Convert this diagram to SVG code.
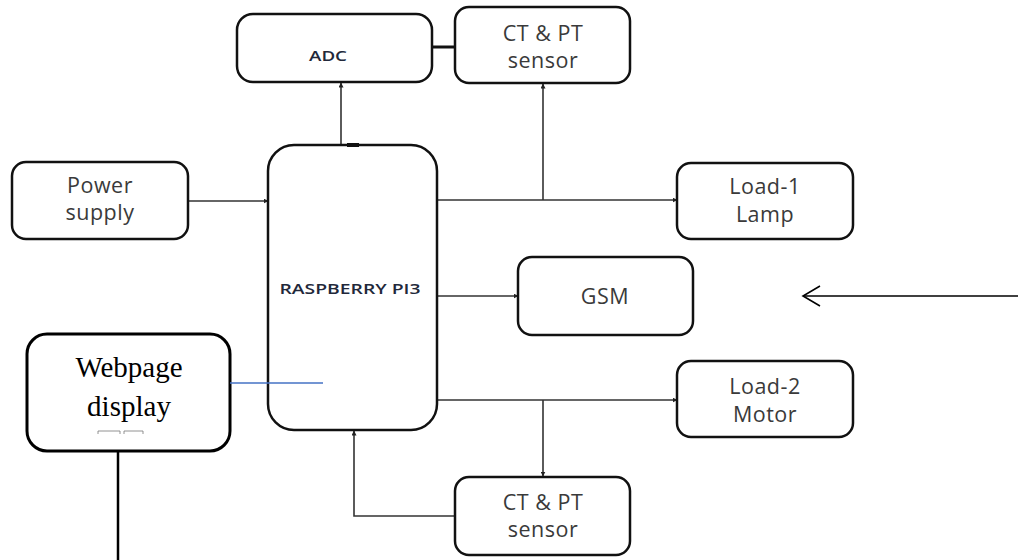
<svg xmlns="http://www.w3.org/2000/svg" width="1018" height="560" viewBox="0 0 1018 560">
<defs>
<marker id="ah" viewBox="0 0 10 10" refX="9" refY="5" markerWidth="5" markerHeight="5" orient="auto" markerUnits="userSpaceOnUse">
<path d="M0,0 L10,5 L0,10 z" fill="#222"/>
</marker>
</defs>
<style>
.box{fill:#fff;stroke:#111;stroke-width:2.5}
.t{font-family:"Open Sans","Liberation Sans",sans-serif;font-size:21.5px;font-weight:500;letter-spacing:0.5px;fill:#3a3a3a;text-anchor:middle}
.ts{font-family:"Open Sans","Liberation Sans",sans-serif;font-size:14.5px;font-weight:600;fill:#22283a;text-anchor:middle}
.c{fill:none;stroke:#333;stroke-width:1.6}
</style>
<rect width="1018" height="560" fill="#fff"/>
<g id="connectors">
<line class="c" x1="432" y1="47" x2="455" y2="47" style="stroke:#111;stroke-width:3"/>
<line class="c" x1="341" y1="145" x2="341" y2="83" marker-end="url(#ah)"/>
<line class="c" x1="543" y1="200" x2="543" y2="84" marker-end="url(#ah)"/>
<line class="c" x1="188" y1="201" x2="268" y2="201" marker-end="url(#ah)"/>
<line class="c" x1="437" y1="200" x2="677" y2="200" marker-end="url(#ah)"/>
<line class="c" x1="437" y1="296" x2="518" y2="296" marker-end="url(#ah)"/>
<line class="c" x1="437" y1="400" x2="677" y2="400" marker-end="url(#ah)"/>
<line class="c" x1="543" y1="400" x2="543" y2="476" marker-end="url(#ah)"/>
<polyline class="c" points="455,516 354,516 354,431" marker-end="url(#ah)"/>
<line x1="118" y1="451" x2="118" y2="560" stroke="#000" stroke-width="2.5"/>
<line x1="1018" y1="296" x2="803" y2="296" stroke="#000" stroke-width="1.6"/>
<polyline points="820,286 803,296 820,306" fill="none" stroke="#000" stroke-width="1.6"/>
</g>
<g id="adc">
<rect class="box" x="237" y="14" width="195" height="68" rx="16"/>
<text class="ts" x="328" y="61" textLength="38" lengthAdjust="spacingAndGlyphs">ADC</text>
</g>
<g id="ctpt-top">
<rect class="box" x="455" y="7" width="175" height="76" rx="14"/>
<text class="t" x="543" y="41">CT &amp; PT</text>
<text class="t" x="543" y="68">sensor</text>
</g>
<g id="power">
<rect class="box" x="12" y="162" width="176" height="77" rx="14"/>
<text class="t" x="100" y="193">Power</text>
<text class="t" x="100" y="220">supply</text>
</g>
<g id="rpi">
<rect class="box" x="268" y="145" width="169" height="285" rx="26"/>
<rect x="347" y="143" width="12" height="4" fill="#111"/>
<text class="ts" x="350" y="294" textLength="141" lengthAdjust="spacingAndGlyphs">RASPBERRY PI3</text>
</g>
<g id="load1">
<rect class="box" x="677" y="163" width="176" height="76" rx="14"/>
<text class="t" x="765" y="194">Load-1</text>
<text class="t" x="765" y="222">Lamp</text>
</g>
<g id="gsm">
<rect class="box" x="518" y="257" width="175" height="78" rx="14"/>
<text class="t" x="605" y="304">GSM</text>
</g>
<g id="load2">
<rect class="box" x="677" y="361" width="176" height="76" rx="14"/>
<text class="t" x="765" y="394">Load-2</text>
<text class="t" x="765" y="422">Motor</text>
</g>
<g id="ctpt-bottom">
<rect class="box" x="455" y="477" width="175" height="78" rx="14"/>
<text class="t" x="543" y="510">CT &amp; PT</text>
<text class="t" x="543" y="537">sensor</text>
</g>
<g id="webpage">
<rect x="27" y="334" width="203" height="117" rx="20" fill="#fff" stroke="#000" stroke-width="3"/>
<text x="129" y="377" font-family="'Liberation Serif',serif" font-size="29" fill="#000" text-anchor="middle">Webpage</text>
<text x="129" y="416" font-family="'Liberation Serif',serif" font-size="29" fill="#000" text-anchor="middle">display</text>
<path d="M98,434 V431 H120 V434 M124,434 V431 H143 V434" fill="none" stroke="#777" stroke-width="0.8"/>
</g>
<g id="webpage-link">
<line x1="230" y1="383" x2="323" y2="383" stroke="#4472c4" stroke-width="1.6"/>
</g>
</svg>
